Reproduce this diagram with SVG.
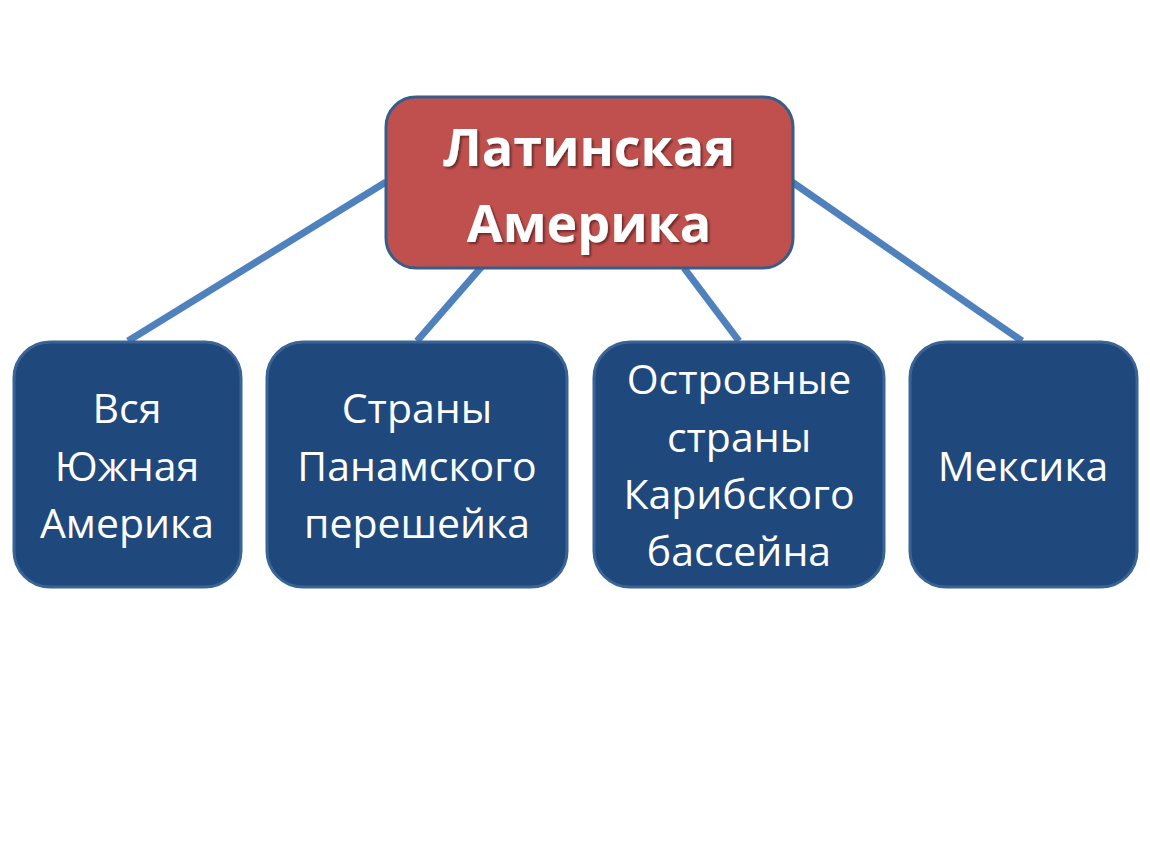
<svg xmlns="http://www.w3.org/2000/svg" width="1150" height="864" viewBox="0 0 1150 864">
<defs>
<filter id="ts" x="-10%" y="-10%" width="120%" height="130%">
<feDropShadow dx="2" dy="2" stdDeviation="1.2" flood-color="#000" flood-opacity="0.45"/>
</filter>
</defs>
<style>
.conn{stroke:#4F81BD;stroke-width:7;fill:none}
.top{fill:#C0504D;stroke:#385D8A;stroke-width:3}
.box{fill:#1F497D;stroke:#3A6396;stroke-width:3}
.tt{font-family:"Open Sans","Noto Sans",sans-serif;font-weight:bold;font-size:52px;fill:#fff;text-anchor:middle}
.bt{font-family:"Open Sans","Noto Sans",sans-serif;font-size:41px;fill:#fff;text-anchor:middle}
</style>
<rect width="1150" height="864" fill="#fff"/>
<g id="connectors">
<line class="conn" x1="386" y1="182" x2="128" y2="341"/>
<line class="conn" x1="484" y1="264" x2="417" y2="341"/>
<line class="conn" x1="684" y1="268" x2="739" y2="341"/>
<line class="conn" x1="792" y1="182" x2="1022" y2="341"/>
</g>
<g id="n0">
<rect class="top" x="386" y="97" width="407" height="171" rx="30"/>
<g filter="url(#ts)">
<text class="tt" x="589" y="166">Латинская</text>
<text class="tt" x="589" y="242">Америка</text>
</g>
</g>
<g id="n1">
<rect class="box" x="14" y="342" width="227" height="245" rx="36"/>
<text class="bt" x="127" y="423">Вся</text>
<text class="bt" x="127" y="481">Южная</text>
<text class="bt" x="127" y="538">Америка</text>
</g>
<g id="n2">
<rect class="box" x="267" y="342" width="300" height="245" rx="36"/>
<text class="bt" x="417" y="423">Страны</text>
<text class="bt" x="417" y="481">Панамского</text>
<text class="bt" x="417" y="538">перешейка</text>
</g>
<g id="n3">
<rect class="box" x="594" y="342" width="290" height="245" rx="36"/>
<text class="bt" x="739" y="394">Островные</text>
<text class="bt" x="739" y="452">страны</text>
<text class="bt" x="739" y="509">Карибского</text>
<text class="bt" x="739" y="566">бассейна</text>
</g>
<g id="n4">
<rect class="box" x="910" y="342" width="227" height="245" rx="36"/>
<text class="bt" x="1023" y="481">Мексика</text>
</g>
</svg>
